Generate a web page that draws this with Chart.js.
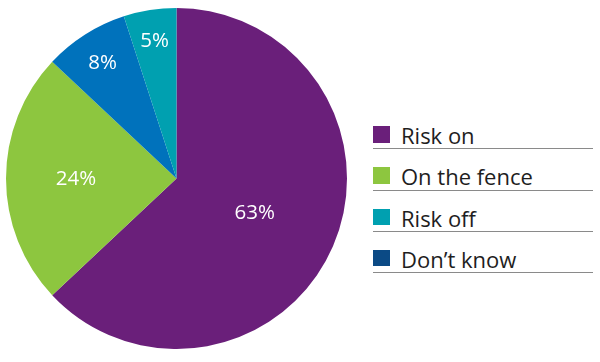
<!DOCTYPE html>
<html>
<head>
<meta charset="utf-8">
<script src="https://cdn.jsdelivr.net/npm/chart.js@4/dist/chart.umd.min.js"></script>
<style>
  html, body { margin: 0; padding: 0; background: #fff; }
  body { width: 600px; height: 362px; position: relative; overflow: hidden; font-family: 'Open Sans', 'Liberation Sans', sans-serif; }
  #pie-wrap { position: absolute; left: 5.5px; top: 8px; width: 341px; height: 341px; }
  #legend { position: absolute; left: 373px; top: 108px; width: 220px; margin: 0; padding: 0; list-style: none; }
  #legend li { position: relative; height: 41.3px; border-bottom: 1px solid #8a8a8a; box-sizing: border-box; }
  #legend .sw { position: absolute; left: 0; top: 18px; width: 16.5px; height: 16.5px; }
  #legend .tx { position: absolute; left: 28px; top: 12px; font-size: 22px; font-weight: 400; color: #1e1e1e; line-height: 30px; white-space: nowrap; }
</style>
</head>
<body>
<div id="pie-wrap"><canvas id="chart"></canvas></div>
<ul id="legend"></ul>
<script>
(function () {
  // slices, clockwise from 12 o'clock
  var labels = ['Risk on', 'On the fence', 'Don\u2019t know', 'Risk off'];
  var values = [63, 24, 8, 5];
  var sliceColors = ['#6a1f7a', '#8dc63f', '#0072bc', '#00a0b0'];

  // legend as printed in the source
  var legendLabels = ['Risk on', 'On the fence', 'Risk off', 'Don\u2019t know'];
  var legendColors = ['#6a1f7a', '#8dc63f', '#00a0b0', '#0b4a85'];

  // how far out each percent label sits, as a share of the radius
  var labelRadius = [0.50, 0.59, 0.81, 0.82];

  var sliceLabels = {
    id: 'sliceLabels',
    afterDatasetsDraw: function (chart) {
      var ctx = chart.ctx;
      var meta = chart.getDatasetMeta(0);
      ctx.save();
      ctx.fillStyle = '#fff';
      ctx.font = '400 20.5px "Open Sans", "Liberation Sans", sans-serif';
      ctx.textAlign = 'center';
      ctx.textBaseline = 'middle';
      meta.data.forEach(function (arc, i) {
        var p = arc.getProps(['x', 'y', 'startAngle', 'endAngle', 'outerRadius'], true);
        var mid = (p.startAngle + p.endAngle) / 2;
        var r = p.outerRadius * labelRadius[i];
        ctx.fillText(values[i] + '%', p.x + Math.cos(mid) * r, p.y + Math.sin(mid) * r + 1);
      });
      ctx.restore();
    }
  };

  new Chart(document.getElementById('chart'), {
    type: 'pie',
    data: {
      labels: labels,
      datasets: [{
        data: values,
        backgroundColor: sliceColors,
        borderWidth: 0
      }]
    },
    options: {
      responsive: true,
      maintainAspectRatio: false,
      animation: false,
      layout: { padding: 0 },
      plugins: {
        legend: { display: false },
        tooltip: { enabled: false }
      }
    },
    plugins: [sliceLabels]
  });

  var ul = document.getElementById('legend');
  legendLabels.forEach(function (name, i) {
    var li = document.createElement('li');
    var sw = document.createElement('span');
    sw.className = 'sw';
    sw.style.background = legendColors[i];
    var tx = document.createElement('span');
    tx.className = 'tx';
    tx.textContent = name;
    li.appendChild(sw);
    li.appendChild(tx);
    ul.appendChild(li);
  });
})();
</script>
</body>
</html>
